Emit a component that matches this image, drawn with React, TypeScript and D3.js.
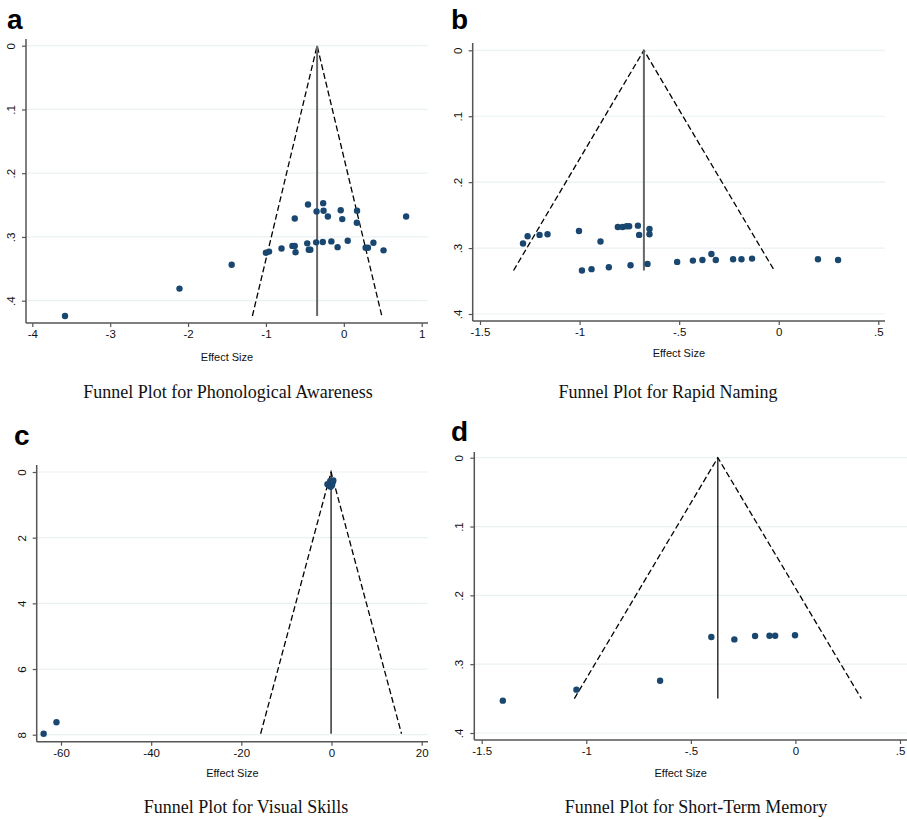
import React, { useEffect, useRef } from 'react';
import * as d3 from 'd3';

// panel a - phonological awareness
const paEffect = [-3.58, -2.11, -1.44, -1.0, -0.96, -0.8, -0.66, -0.63, -0.62, -0.63, -0.47, -0.45, -0.43, -0.46, -0.355, -0.35, -0.27, -0.265, -0.26, -0.205, -0.16, -0.08, -0.04, -0.02, 0.05, 0.167, 0.17, 0.28, 0.31, 0.38, 0.51, 0.8];
const paSE = [0.424, 0.381, 0.3435, 0.3247, 0.323, 0.318, 0.314, 0.314, 0.324, 0.271, 0.31, 0.32, 0.32, 0.249, 0.3085, 0.26, 0.308, 0.247, 0.259, 0.268, 0.307, 0.316, 0.258, 0.272, 0.306, 0.2777, 0.259, 0.317, 0.317, 0.309, 0.321, 0.268];

// panel b - rapid naming
const rnEffect = [-1.284, -1.261, -1.201, -1.161, -1.003, -0.895, -0.988, -0.94, -0.853, -0.808, -0.784, -0.764, -0.751, -0.707, -0.701, -0.744, -0.649, -0.649, -0.659, -0.51, -0.431, -0.383, -0.338, -0.316, -0.229, -0.187, -0.134, 0.197, 0.298];
const rnSE = [0.293, 0.282, 0.28, 0.279, 0.274, 0.29, 0.334, 0.332, 0.329, 0.268, 0.268, 0.267, 0.267, 0.266, 0.28, 0.326, 0.271, 0.279, 0.324, 0.321, 0.319, 0.318, 0.309, 0.318, 0.317, 0.317, 0.316, 0.317, 0.318];

// panel c - visual skills
const vsEffect = [-63.85, -61.0, -0.9, -0.5, -0.3, 0.0, 0.3, 0.1, -0.2, 0.4];
const vsSE = [7.97, 7.62, 0.37, 0.42, 0.28, 0.33, 0.3, 0.4, 0.45, 0.26];

// panel d - short-term memory
const stmEffect = [-1.399, -1.047, -0.647, -0.402, -0.292, -0.193, -0.124, -0.097, -0.002];
const stmSE = [0.353, 0.337, 0.324, 0.2605, 0.264, 0.259, 0.2586, 0.2586, 0.258];

const xTicksA = [-4, -3, -2, -1, 0, 1];
const xTicksB = [-1.5, -1, -0.5, 0, 0.5];
const xTicksC = [-60, -40, -20, 0, 20];
const yTicksSmall = [0, 0.1, 0.2, 0.3, 0.4];
const yTicksC = [0, 2, 4, 6, 8];

const pooled = [-0.343, -0.677, -0.1, -0.371];
const seMax = [0.424, 0.334, 7.97, 0.35];

const titles = [
  'Funnel Plot for Phonological Awareness',
  'Funnel Plot for Rapid Naming',
  'Funnel Plot for Visual Skills',
  'Funnel Plot for Short-Term Memory',
];
const letters = ['a', 'b', 'c', 'd'];

const fmt = (v) => {
  if (v === 0) return '0';
  let s = String(v);
  s = s.replace('0.', '.');
  return s;
};

const panels = [
  { x: paEffect, y: paSE, xt: xTicksA, yt: yTicksSmall, left: 26, right: 428, top: 39, bottom: 323,
    xr: [32.3, 421.7], yr: [45.7, 300.7], letterPos: [7, 29], titleX: 228, titleY: 398, labelY: 361, solidGray: true },
  { x: rnEffect, y: rnSE, xt: xTicksB, yt: yTicksSmall, left: 472.7, right: 885, top: 43, bottom: 321,
    xr: [480, 878.3], yr: [50.3, 314], letterPos: [451, 29], titleX: 668, titleY: 398, labelY: 357, solidGray: true },
  { x: vsEffect, y: vsSE, xt: xTicksC, yt: yTicksC, left: 36.7, right: 428, top: 465, bottom: 741.7,
    xr: [61, 421.7], yr: [472, 734.7], letterPos: [14, 445], titleX: 246, titleY: 813, labelY: 777, solidGray: false },
  { x: stmEffect, y: stmSE, xt: xTicksB, yt: yTicksSmall, left: 474.3, right: 907, top: 452, bottom: 740,
    xr: [481.7, 900], yr: [457.7, 733], letterPos: [451, 441], titleX: 696, titleY: 813, labelY: 777, solidGray: false },
];

export default function App() {
  const ref = useRef(null);

  useEffect(() => {
    const svg = d3.select(ref.current);
    svg.selectAll('*').remove();

    panels.forEach((p, i) => {
      const xt = p.xt;
      const yt = p.yt;
      const x = d3.scaleLinear().domain([xt[0], xt[xt.length - 1]]).range(p.xr);
      const y = d3.scaleLinear().domain([yt[0], yt[yt.length - 1]]).range(p.yr);
      const g = svg.append('g');

      // gridlines
      g.selectAll('.grid').data(yt).enter().append('line')
        .attr('x1', p.left).attr('x2', p.right)
        .attr('y1', (d) => y(d)).attr('y2', (d) => y(d))
        .attr('stroke', '#eaf2f3').attr('stroke-width', 1.2);

      // x axis
      const xa = g.append('g').attr('transform', 'translate(0,' + p.bottom + ')')
        .call(d3.axisBottom(x).tickValues(xt).tickFormat(fmt).tickSize(4).tickPadding(3));
      xa.select('.domain').attr('d', 'M' + p.left + ',0H' + p.right).attr('stroke', '#555').attr('stroke-width', 1.5);
      xa.selectAll('.tick line').attr('stroke', '#555').attr('stroke-width', 1.2);
      xa.selectAll('text').attr('font-family', 'Liberation Sans, Arial, sans-serif').attr('font-size', 11.5).attr('fill', '#111');

      // y axis
      const ya = g.append('g').attr('transform', 'translate(' + p.left + ',0)')
        .call(d3.axisLeft(y).tickValues(yt).tickFormat(fmt).tickSize(4).tickPadding(3));
      ya.select('.domain').attr('d', 'M0,' + p.top + 'V' + p.bottom).attr('stroke', '#555').attr('stroke-width', 1.5);
      ya.selectAll('.tick line').attr('stroke', '#555').attr('stroke-width', 1.2);
      ya.selectAll('text')
        .attr('font-family', 'Liberation Sans, Arial, sans-serif').attr('font-size', 11.5).attr('fill', '#111')
        .attr('x', null).attr('dy', null)
        .attr('text-anchor', 'middle')
        .attr('transform', 'translate(-11,0) rotate(-90)');

      // funnel
      const pm = pooled[i];
      const sm = seMax[i];
      const funnel = [[pm - 1.96 * sm, sm], [pm, 0], [pm + 1.96 * sm, sm]];
      g.append('path')
        .attr('d', d3.line().x((d) => x(d[0])).y((d) => y(d[1]))(funnel))
        .attr('fill', 'none').attr('stroke', '#000').attr('stroke-width', 1.3)
        .attr('stroke-dasharray', '6,3');
      g.append('line')
        .attr('x1', x(pm)).attr('x2', x(pm)).attr('y1', y(0)).attr('y2', y(sm))
        .attr('stroke', p.solidGray ? '#666' : '#000').attr('stroke-width', p.solidGray ? 2 : 1.2);

      // dots
      g.selectAll('.dot').data(p.x).enter().append('circle')
        .attr('cx', (d) => x(d)).attr('cy', (d, j) => y(p.y[j]))
        .attr('r', 3.2).attr('fill', '#1a476f');

      // labels
      g.append('text').attr('x', (p.left + p.right) / 2 + (i === 3 ? -10 : 0)).attr('y', p.labelY)
        .attr('text-anchor', 'middle').attr('font-family', 'Liberation Sans, Arial, sans-serif')
        .attr('font-size', 11).attr('fill', '#111').text('Effect Size');
      g.append('text').attr('x', p.titleX).attr('y', p.titleY)
        .attr('text-anchor', 'middle').attr('font-family', 'Liberation Serif, Times New Roman, serif')
        .attr('font-size', 18).attr('fill', '#111').text(titles[i]);
      g.append('text').attr('x', p.letterPos[0]).attr('y', p.letterPos[1])
        .attr('font-family', 'Liberation Sans, Arial, sans-serif').attr('font-weight', 'bold')
        .attr('font-size', 28).attr('fill', '#000').text(letters[i]);
    });
  }, []);

  return (
    <svg ref={ref} width={907} height={820}
      style={{ position: 'absolute', left: 0, top: 0, background: '#fff' }} />
  );
}
